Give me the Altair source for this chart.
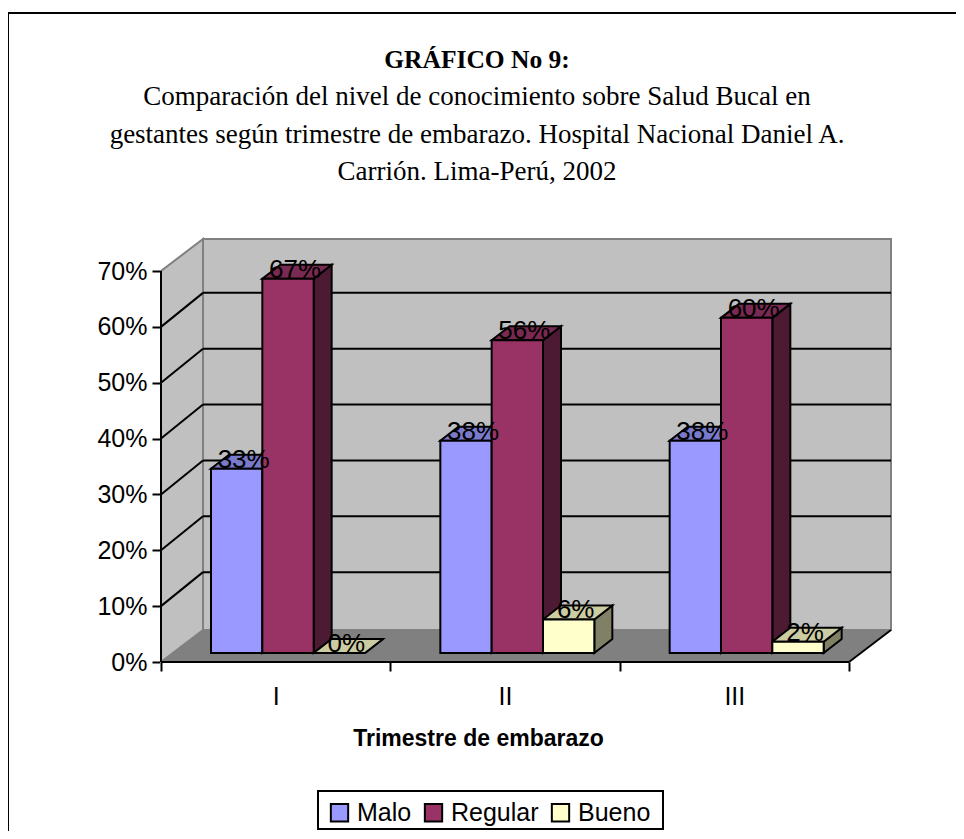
import altair as alt
import pandas as pd

CATEGORIES = ["I", "II", "III"]
SERIES = ["Malo", "Regular", "Bueno"]
MALO = [33, 38, 38]
REGULAR = [67, 56, 60]
BUENO = [0, 6, 2]
FRONT = ["#9999FF", "#993366", "#FFFFCC"]
TOP = ["#7A7ACC", "#7A2952", "#CCCCA3"]
SIDE = ["#4D4D80", "#4D1A33", "#808066"]
TICKS = [0, 10, 20, 30, 40, 50, 60, 70]
TITLE = "GRÁFICO No 9:"
SUBTITLE = [
    "Comparación del nivel de conocimiento sobre Salud Bucal en",
    "gestantes según trimestre de embarazo. Hospital Nacional Daniel A.",
    "Carrión. Lima-Perú, 2002",
]

# plot area in pixels, and the fake-3D geometry expressed in pixels
W, H = 731, 423
PX_CAT = 688 / 3          # pixels per category
PX_PCT = 391 / 70         # pixels per percent
XMAX, YMAX = W / PX_CAT, H / PX_PCT
DX, DY = 42 / PX_CAT, 32 / PX_PCT            # depth of the box
GDY = 34 / PX_PCT                            # depth of gridlines
BX0, BY0 = 12 / PX_CAT, 9 / PX_PCT           # front plane of the bars
BDX, BDY = 18 / PX_CAT, 14 / PX_PCT          # depth of a bar
BAR_W = 51.33 / PX_CAT
GROUP_L = 38 / PX_CAT

xs = alt.Scale(domain=[0, XMAX], nice=False, zero=False)
ys = alt.Scale(domain=[0, YMAX], nice=False, zero=False)

AX = dict(labelFont="Liberation Sans", labelFontSize=25, labelColor="#000000",
          tickColor="#000000", tickWidth=2, tickSize=9, domain=False, grid=False)
X_AXIS = alt.Axis(
    values=[0, 0.5, 1, 1.5, 2, 2.5, 3],
    labelExpr="datum.value==0.5?'I':datum.value==1.5?'II':datum.value==2.5?'III':''",
    tickOpacity={"condition": {"test": "datum.value % 1 != 0", "value": 0}, "value": 1},
    labelPadding=13, title="Trimestre de embarazo", titleFont="Liberation Sans",
    titleFontSize=23, titleFontWeight="bold", titleColor="#000000", titleX=317, titleY=83,
    titleBaseline="alphabetic", labelOverlap=False, **AX)
Y_AXIS = alt.Axis(values=TICKS, labelExpr="datum.value + '%'", labelPadding=5, title=None, **AX)


def X(f="x"):
    return alt.X(f"{f}:Q", scale=xs, axis=X_AXIS, stack=None)


def Y(f="y"):
    return alt.Y(f"{f}:Q", scale=ys, axis=Y_AXIS, stack=None)


fronts, tops, sides, labels = [], [], [], []
for s, (name, vals) in enumerate(zip(SERIES, [MALO, REGULAR, BUENO])):
    for c, v in enumerate(vals):
        x0 = c + GROUP_L + BX0 + s * BAR_W
        x1 = x0 + BAR_W
        base = BY0
        top = v + BY0
        key = f"{name}-{c}"
        fronts.append(dict(serie=name, x=x0, x2=x1, y=base, y2=top))
        sides += [
            dict(k=key, c=SIDE[s], x=x1, y=base, y2=top),
            dict(k=key, c=SIDE[s], x=x1 + BDX, y=base + BDY, y2=top + BDY),
        ]
        tops += [
            dict(k=key, c=TOP[s], y=top, x=x0, x2=x1),
            dict(k=key, c=TOP[s], y=top + BDY, x=x0 + BDX, x2=x1 + BDX),
        ]
        labels.append(dict(x=(x0 + x1) / 2 + 7 / PX_CAT, y=top, t=f"{v}%"))

back = alt.Chart(pd.DataFrame([dict(x=DX, x2=3 + DX, y=DY, y2=70 + DY)])).mark_rect(
    fill="#C0C0C0", stroke="#808080", strokeWidth=2
).encode(x=X(), x2="x2:Q", y=Y(), y2="y2:Q")

left = alt.Chart(pd.DataFrame([
    dict(x=0, y=0, y2=70), dict(x=DX, y=DY, y2=70 + DY)
])).mark_area(fill="#C0C0C0", stroke="#808080", strokeWidth=2).encode(
    x=X(), y=Y(), y2="y2:Q"
)

floor = alt.Chart(pd.DataFrame([
    dict(y=0, x=0, x2=3), dict(y=DY, x=DX, x2=3 + DX)
])).mark_area(orient="horizontal", fill="#808080").encode(
    y=Y(), x=X(), x2="x2:Q"
)

lines = []
for t in TICKS[1:-1]:
    lines.append(dict(x=DX, x2=3 + DX, y=t + GDY, y2=t + GDY))
    lines.append(dict(x=0, x2=DX, y=t, y2=t + GDY))
lines += [
    dict(x=0, x2=3, y=0, y2=0),
    dict(x=0, x2=0, y=0, y2=70),
    dict(x=3, x2=3 + DX, y=0, y2=DY),
]
grid = alt.Chart(pd.DataFrame(lines)).mark_rule(color="#000000", strokeWidth=2).encode(
    x=X(), x2="x2:Q", y=Y(), y2="y2:Q"
)

BAR_STYLE = dict(stroke="#000000", strokeWidth=2)
side = alt.Chart(pd.DataFrame(sides)).mark_area(**BAR_STYLE).encode(
    x=X(), y=Y(), y2="y2:Q", fill=alt.Fill("c:N", scale=None), detail="k:N"
)
topf = alt.Chart(pd.DataFrame(tops)).mark_area(orient="horizontal", **BAR_STYLE).encode(
    y=Y(), x=X(), x2="x2:Q", fill=alt.Fill("c:N", scale=None), detail="k:N"
)
front = alt.Chart(pd.DataFrame(fronts)).mark_rect(**BAR_STYLE).encode(
    x=X(), x2="x2:Q", y=Y(), y2="y2:Q",
    fill=alt.Fill("serie:N", scale=alt.Scale(domain=SERIES, range=FRONT), legend=alt.Legend(
        title=None, orient="none", legendX=166, legendY=561, direction="horizontal",
        padding=0, symbolType="square", symbolSize=300,
        symbolStrokeColor="#000000", symbolStrokeWidth=2, labelFont="Liberation Sans",
        labelFontSize=25, labelColor="#000000", columnPadding=8, labelOffset=5,
        symbolOpacity=1,
    )),
)
text = alt.Chart(pd.DataFrame(labels)).mark_text(
    font="Liberation Sans", fontSize=26, color="#000000", align="center",
    baseline="alphabetic", dy=-1
).encode(x=X(), y=Y(), text="t:N")

one = pd.DataFrame({"a": [0]})
frame_l = alt.Chart(one).mark_rule(color="#000000", strokeWidth=2).encode(
    x=alt.value(-153), y=alt.value(-226), y2=alt.value(600)
)
frame_t = alt.Chart(one).mark_rule(color="#000000", strokeWidth=2).encode(
    x=alt.value(-154), x2=alt.value(810), y=alt.value(-226)
)
legend_box = alt.Chart(one).mark_rect(
    fill="#FFFFFF", fillOpacity=0, stroke="#000000", strokeWidth=2
).encode(x=alt.value(318 - 161), x2=alt.value(663 - 161), y=alt.value(791 - 239), y2=alt.value(829 - 239))


def title_line(txt, baseline_px, weight, size):
    return alt.Chart(pd.DataFrame({"t": [txt]})).mark_text(
        font="Liberation Serif", fontSize=size, fontWeight=weight, color="#000000",
        align="center", baseline="alphabetic"
    ).encode(x=alt.value(477 - 161), y=alt.value(baseline_px - 239), text="t:N")


titles = [title_line(TITLE, 68, "bold", 25.5)] + [
    title_line(t, 105 + i * 37.5, "normal", 27) for i, t in enumerate(SUBTITLE)
]

chart = alt.layer(back, left, floor, grid, side, topf, front, text, frame_l, frame_t, legend_box, *titles).properties(
    width=W,
    height=H,
    padding={"left": 153, "top": 231, "right": 64, "bottom": 169},
    autosize=alt.AutoSizeParams(type="none"),
).configure_view(stroke=None)

chart.save("out.html", embed_options={"renderer": "svg", "actions": False})
